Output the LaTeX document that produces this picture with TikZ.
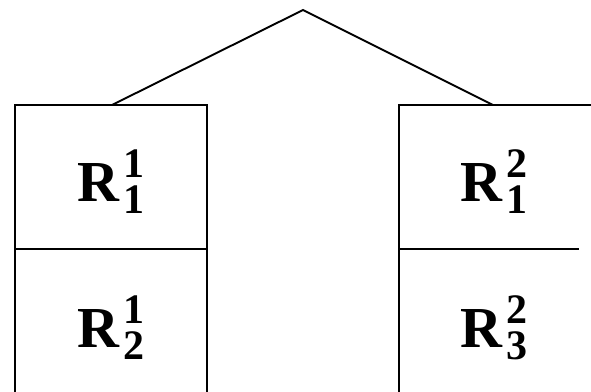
\documentclass[tikz,border=0pt]{standalone}
\usepackage{fontspec}
\setmainfont{Liberation Serif}
\newcommand{\RSS}[2]{\bfseries R\kern4pt\makebox[0pt][l]{\raisebox{24pt}{\fontsize{42}{42}\selectfont #1}}\raisebox{-12pt}{\fontsize{42}{42}\selectfont #2}}
\begin{document}
\begin{tikzpicture}[x=1pt,y=1pt,
  ln/.style={line width=1.9pt},
  lbl/.style={anchor=base west,inner sep=0pt,font=\fontsize{58}{58}\selectfont}]
\useasboundingbox (0,0) rectangle (591,391);
\clip (0,0) rectangle (591,391);
\coordinate (apex) at (303,381);
\coordinate (lt) at (112,286);
\coordinate (rt) at (493,286);
% left box
\draw[ln] (15,-5) -- (15,286) -- (207,286) -- (207,-5);
\draw[ln] (15,142) -- (207,142);
% right box
\draw[ln] (399,-5) -- (399,286) -- (596,286);
\draw[ln] (399,142) -- (579,142);
% connector
\draw[ln] (lt) -- (apex) -- (rt);
\node[lbl] (r11) at (77,189) {\RSS{1}{1}};
\node[lbl] (r12) at (77,44) {\RSS{1}{2}};
\node[lbl] (r21) at (460,189) {\RSS{2}{1}};
\node[lbl] (r23) at (460,44) {\RSS{2}{3}};
\end{tikzpicture}
\end{document}
